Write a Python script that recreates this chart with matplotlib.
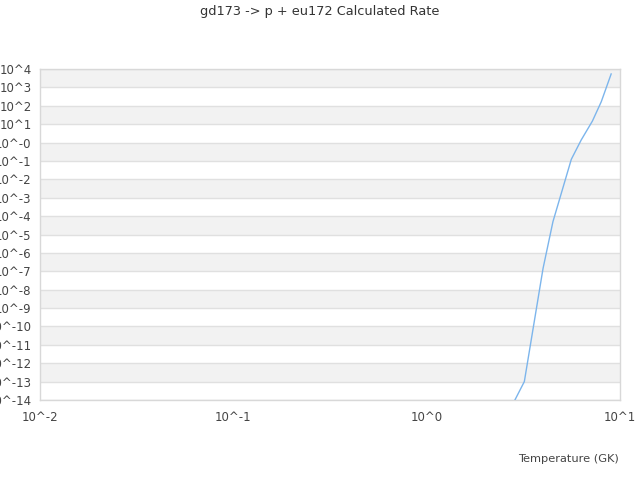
import numpy as np
import matplotlib.pyplot as plt
from matplotlib.ticker import FixedLocator, FuncFormatter, NullLocator

# rate curve (T in GK, log10 of rate)
temperature = [2.5, 3.2, 4.0, 4.5, 5.6, 6.3, 7.2, 8.0, 9.0]
log_rate = [-15.2, -13.0, -6.84, -4.30, -0.91, 0.14, 1.17, 2.22, 3.73]
rate = [10 ** v for v in log_rate]

y_decades = list(range(-14, 5))
x_decades = [-2, -1, 0, 1]

fig = plt.figure(figsize=(6.4, 4.8), dpi=100)
ax = fig.add_axes([40 / 640, 80 / 480, 580 / 640, 331 / 480])

ax.set_xscale("log")
ax.set_yscale("log")
ax.set_xlim(1e-2, 1e1)
ax.set_ylim(1e-14, 1e4)

# alternating horizontal bands, one per decade
for i, e in enumerate(range(3, -15, -1)):
    if i % 2 == 0:
        ax.axhspan(10.0 ** e, 10.0 ** (e + 1), color="#f2f2f2", lw=0, zorder=0)
for e in y_decades:
    ax.axhline(10.0 ** e, color="#e0e0e0", lw=1, zorder=1)

ax.plot(temperature, rate, color="#7cb5ec", lw=1, zorder=3)


def y_label(v, pos):
    e = int(round(np.log10(v)))
    return "10^-0" if e == 0 else f"10^{e}"


def x_label(v, pos):
    return f"10^{int(round(np.log10(v)))}"


ax.yaxis.set_major_locator(FixedLocator([10.0 ** e for e in y_decades]))
ax.xaxis.set_major_locator(FixedLocator([10.0 ** e for e in x_decades]))
ax.yaxis.set_minor_locator(NullLocator())
ax.xaxis.set_minor_locator(NullLocator())
ax.yaxis.set_major_formatter(FuncFormatter(y_label))
ax.xaxis.set_major_formatter(FuncFormatter(x_label))
ax.tick_params(axis="both", length=0, labelsize=8.5, labelcolor="#444444")
ax.tick_params(axis="y", pad=6)
ax.tick_params(axis="x", pad=8)

for s in ax.spines.values():
    s.set_color("#d8d8d8")
    s.set_linewidth(1)

fig.text(0.5, 1 - 12 / 480, "gd173 -> p + eu172 Calculated Rate",
         ha="center", va="center", fontsize=9.3, color="#333333")
fig.text(619 / 640, 1 - 459 / 480, "Temperature (GK)",
         ha="right", va="center", fontsize=8.2, color="#444444")

fig.savefig("out.png", dpi=100)
